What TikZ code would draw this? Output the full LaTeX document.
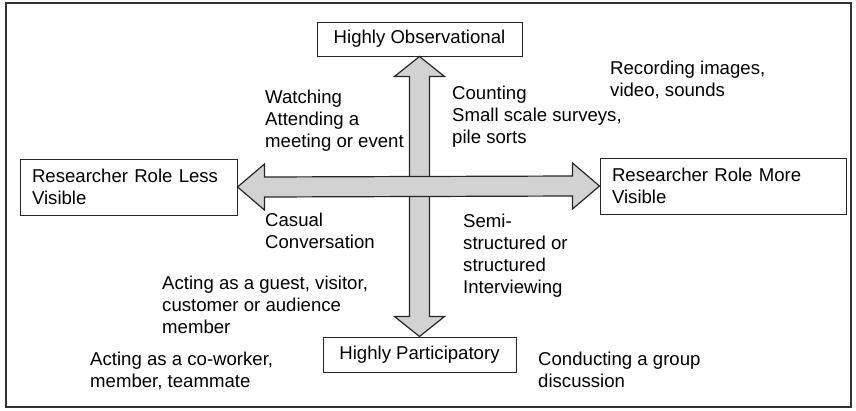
\documentclass[tikz,border=0pt]{standalone}
\usepackage{fontspec}
\setmainfont{Liberation Sans}
\usepackage{tikz}
\usetikzlibrary{calc}
\usepackage{xcolor}

\begin{document}
\begin{tikzpicture}[x=1pt,y=-1pt]
  \tikzset{rolebox/.style = {draw=black!85,line width=1pt,fill=white,inner sep=0pt,font=\fontsize{18.6}{22}\selectfont}}
  % notes sit on the baseline of their last line
  \tikzset{note/.style = {anchor=base west,align=left,inner sep=0pt,font=\fontsize{18.6}{22}\selectfont}}
  \tikzset{bigarrow/.style = {draw=black!85,line width=1.2pt,fill=gray!35,line join=miter}}

  \useasboundingbox (0,0) rectangle (856,410);
  \draw[black!80,line width=1.2pt] (6,3) rectangle (851,407);

	\node[rolebox,minimum width=205pt,minimum height=34pt] (OBS) at (419.5,39) {Highly Observational};
	\node[rolebox,minimum width=193pt,minimum height=35pt] (PART) at (419.5,354.5) {Highly Participatory};
	\node[rolebox,text width=193pt,inner xsep=12pt,minimum height=56pt,align=left] (LESS) at (128.5,187) {Researcher Role Less\\Visible};
	\node[rolebox,text width=222pt,inner xsep=12pt,minimum height=56pt,align=left] (MORE) at (723,186) {Researcher Role More\\Visible};

	% up/down arrow first, the left/right one lies over it
	\draw[bigarrow] (OBS.south) -- ($(OBS.south)+(25,20)$) -- ($(OBS.south)+(10,20)$)
	  -- ($(PART.north)+(10,-20)$) -- ($(PART.north)+(25,-20)$) -- (PART.north)
	  -- ($(PART.north)+(-25,-20)$) -- ($(PART.north)+(-10,-20)$)
	  -- ($(OBS.south)+(-10,20)$) -- ($(OBS.south)+(-25,20)$) -- cycle;
	\draw[bigarrow] (LESS.east) -- ($(LESS.east)+(27,-23)$) -- ($(LESS.east)+(27,-10)$)
	  -- ($(MORE.west)+(-27,-10)$) -- ($(MORE.west)+(-27,-23)$) -- (MORE.west)
	  -- ($(MORE.west)+(-27,23)$) -- ($(MORE.west)+(-27,10)$)
	  -- ($(LESS.east)+(27,10)$) -- ($(LESS.east)+(27,23)$) -- cycle;

	\node[note] (W) at (265,147) {Watching\\Attending a\\meeting or event};
	\node[note] (C) at (452,143) {Counting\\Small scale surveys,\\pile sorts};
	\node[note] (R) at (610,96) {Recording images,\\video, sounds};
	\node[note] (CC) at (265,248) {Casual\\Conversation};
	\node[note] (SI) at (463,293) {Semi-\\structured or\\structured\\Interviewing};
	\node[note] (G) at (162,333) {Acting as a guest, visitor,\\customer or audience\\member};
	\node[note] (CW) at (90,387) {Acting as a co-worker,\\member, teammate};
	\node[note] (GD) at (538,387) {Conducting a group\\discussion};

\end{tikzpicture}
\end{document}
